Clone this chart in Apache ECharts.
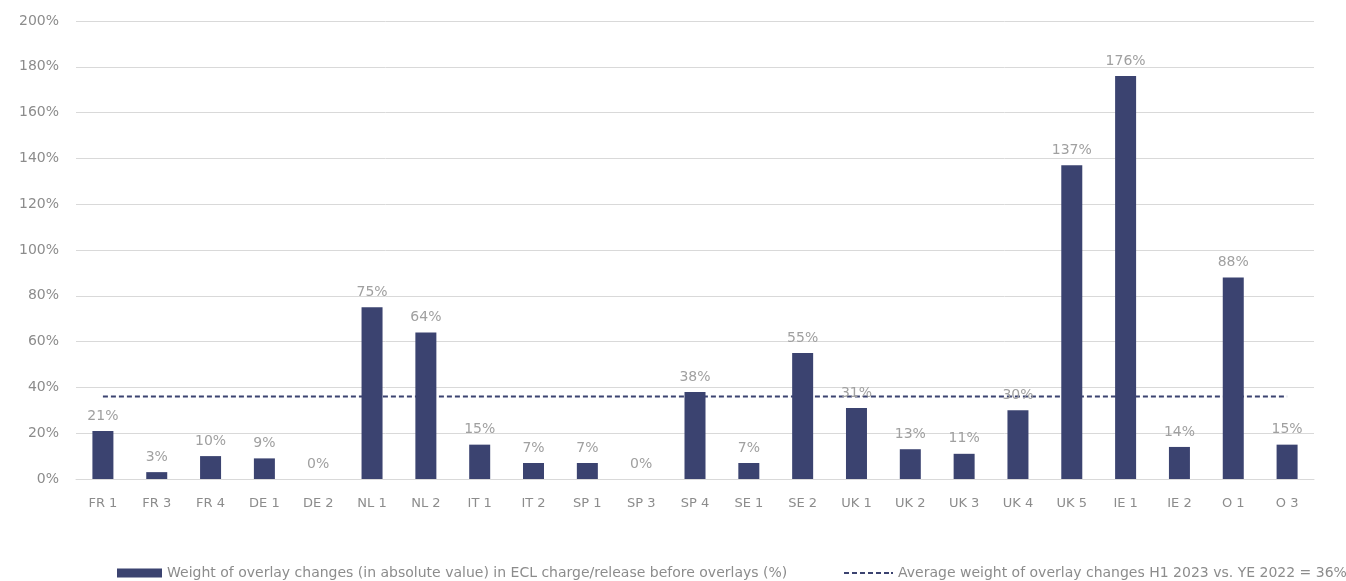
<!DOCTYPE html>
<html>
<head>
<meta charset="utf-8">
<script src="https://cdn.jsdelivr.net/npm/echarts@6/dist/echarts.min.js"></script>
<style>
html,body{margin:0;padding:0;background:#fff}
#chart{width:1346px;height:581px}
</style>
</head>
<body>
<div id="chart"></div>
<script>
const categories = ['FR 1','FR 3','FR 4','DE 1','DE 2','NL 1','NL 2','IT 1','IT 2','SP 1','SP 3','SP 4','SE 1','SE 2','UK 1','UK 2','UK 3','UK 4','UK 5','IE 1','IE 2','O 1','O 3']
const weights = [21,3,10,9,0,75,64,15,7,7,0,38,7,55,31,13,11,30,137,176,14,88,15]
const average = categories.map(() => 36)
const barName = 'Weight of overlay changes (in absolute value) in ECL charge/release before overlays (%)'
const lineName = 'Average weight of overlay changes H1 2023 vs. YE 2022 = 36%'

// dashed icon for the average line legend
const dashIcon = 'path://M0,0h5v2h-5z M8,0h5v2h-5z M16,0h5v2h-5z M24,0h5v2h-5z M32,0h5v2h-5z M40,0h5v2h-5z M47,0h2v2h-2z'
const font = 'DejaVu Sans'

let myChart = echarts.init(document.getElementById('chart'))
let option = {
    animation: false,
    grid: { left: 76, right: 32, top: 21, bottom: 102 },
    legend: [
        {
            data: [{ name: barName, icon: 'rect' }],
            left: 112, top: 561,
            itemWidth: 45, itemHeight: 9,
            textStyle: { color: '#8c8c8c', fontSize: 14, fontFamily: font }
        },
        {
            data: [{ name: lineName, icon: dashIcon }],
            left: 839, top: 561,
            itemWidth: 49, itemHeight: 2,
            textStyle: { color: '#8c8c8c', fontSize: 14, fontFamily: font }
        }
    ],
    xAxis: {
        type: 'category',
        data: categories,
        axisLine: { lineStyle: { color: '#d9d9d9', width: 1 } },
        axisTick: { show: false },
        axisLabel: { color: '#8c8c8c', fontSize: 13, margin: 18, fontFamily: font }
    },
    yAxis: {
        type: 'value',
        min: 0, max: 200, interval: 20,
        axisLabel: { color: '#8c8c8c', fontSize: 14, margin: 17, formatter: '{value}%', fontFamily: font },
        splitLine: { lineStyle: { color: '#d9d9d9', width: 1 } }
    },
    series: [
        {
            name: lineName,
            type: 'line',
            data: average,
            symbol: 'none',
            z: 1,
            itemStyle: { color: '#3b4370' },
            lineStyle: { color: '#3b4370', type: [5, 3], width: 2 }
        },
        {
            name: barName,
            type: 'bar',
            data: weights,
            barWidth: 21,
            z: 3,
            itemStyle: { color: '#3b4370' },
            label: {
                show: true,
                position: 'top',
                distance: 8,
                color: '#a0a0a0',
                fontSize: 14,
                fontFamily: font,
                formatter: '{c}%'
            }
        }
    ]
}
myChart.setOption(option)
</script>
</body>
</html>
